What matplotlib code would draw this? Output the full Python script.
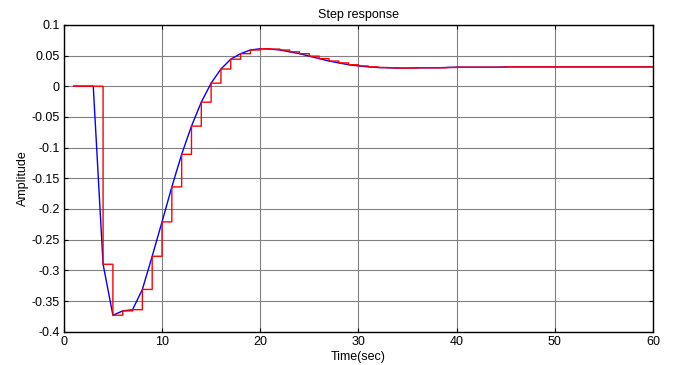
import matplotlib
matplotlib.use("Agg")
import matplotlib.pyplot as plt
import numpy as np

plt.rcParams['font.family'] = ['Liberation Sans', 'DejaVu Sans']
plt.rcParams['axes.unicode_minus'] = False

# sampled step response (t = 1..60 s)
t = np.arange(1, 61)
y = [0.0, 0.0, 0.0, -0.29, -0.373, -0.366, -0.364, -0.331, -0.277, -0.221,
     -0.164, -0.111, -0.065, -0.026, 0.005, 0.028, 0.044, 0.053, 0.059, 0.061,
     0.0605, 0.059, 0.056, 0.053, 0.049, 0.045, 0.041, 0.038, 0.035, 0.033,
     0.0315, 0.0305, 0.030, 0.0295, 0.0295, 0.030, 0.030, 0.030, 0.0305, 0.031,
     0.031, 0.031, 0.031, 0.031, 0.0315, 0.0315, 0.0315, 0.0315, 0.0315, 0.0315,
     0.0315, 0.0315, 0.0315, 0.0315, 0.0315, 0.0315, 0.0315, 0.0315, 0.0315, 0.0315]

xticks = np.arange(0, 61, 10)
yticks = np.arange(-0.4, 0.1001, 0.05)

fig = plt.figure(figsize=(6.86, 3.65), dpi=100)
ax = fig.add_axes([0.093, 0.091, 0.859, 0.841])

ax.plot(t, y, color='blue', lw=1.0, zorder=2)
ax.step(t, y, where='post', color='red', lw=1.0, zorder=3, snap=False)

ax.set_xlim(0, 60)
ax.set_ylim(-0.4, 0.1)
ax.set_xticks(xticks)
ax.set_yticks(yticks)
ax.set_yticklabels(['%g' % (round(v, 2) + 0.0) if abs(v) > 1e-9 else '0' for v in yticks])
ax.grid(True, color='#808080', lw=0.8)
ax.tick_params(direction='in', top=True, right=True, labelsize=9, length=3, pad=3)
for s in ax.spines.values():
    s.set_linewidth(1.0)

ax.set_title('Step response', fontsize=9, pad=5)
ax.set_xlabel('Time(sec)', fontsize=9, labelpad=2)
ax.set_ylabel('Amplitude', fontsize=9, labelpad=2)

fig.savefig('out.png', dpi=100)
